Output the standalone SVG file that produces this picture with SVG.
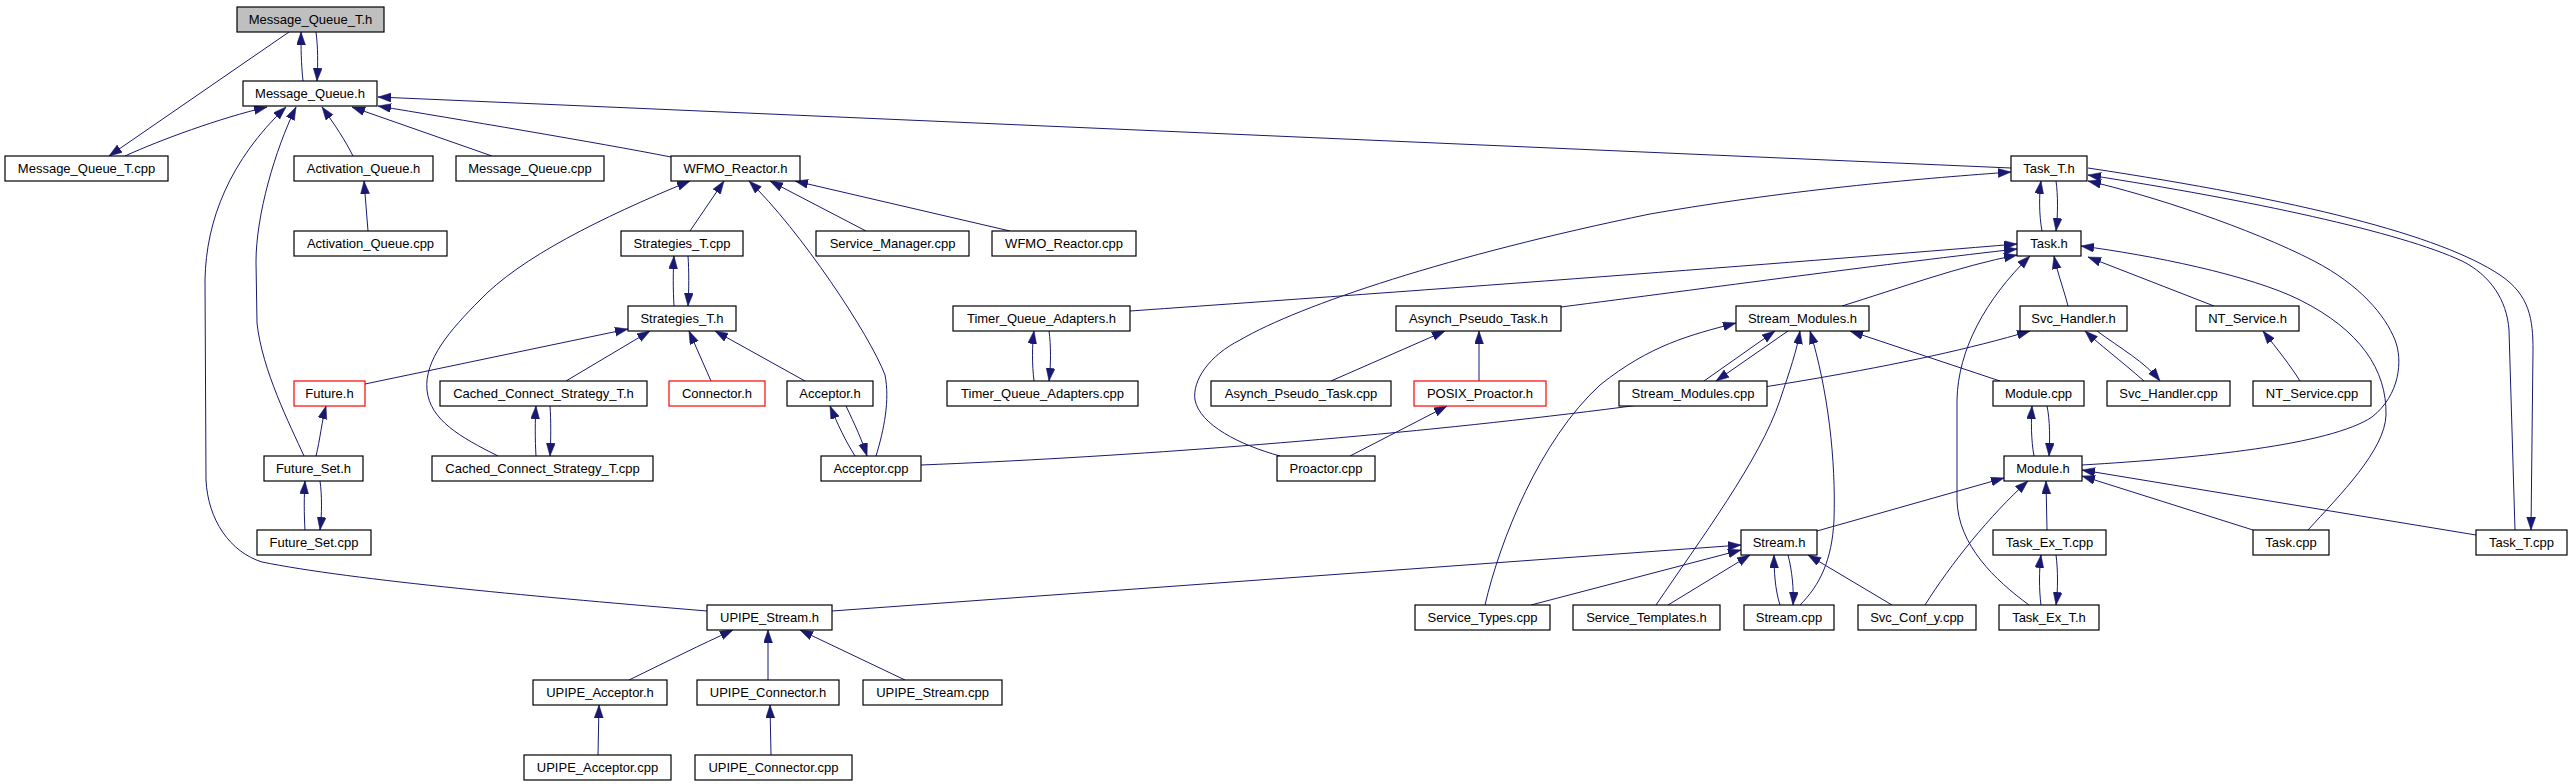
<svg xmlns="http://www.w3.org/2000/svg" width="2572" height="784" viewBox="0 0 2572 784">
<defs>
<marker id="a" markerUnits="userSpaceOnUse" markerWidth="14" markerHeight="10" refX="13" refY="4.5" orient="auto">
<path d="M0,0 L13,4.5 L0,9 Z" fill="#191970" stroke="#191970" stroke-width="0.5"/>
</marker>
<style>
.e path{fill:none;stroke:#191970;stroke-width:1;marker-end:url(#a)}
.n rect{fill:#fff;stroke:#000;stroke-width:1.2}
.n.g rect{fill:#bfbfbf}
.n.r rect{stroke:#ff0000}
.n text{font-family:"Liberation Sans",Arial,sans-serif;font-size:13px;text-anchor:middle;fill:#000}
</style>
</defs>
<rect width="2572" height="784" fill="#fff"/>
<g id="connectors" class="e">
<path d="M303,81 C301,62 301,48 301,32"/>
<path d="M316,32 C318,48 318,62 317,81"/>
<path d="M289,32 L109,156"/>
<path d="M125,156 C160,140 220,118 267,107"/>
<path d="M304,456 C290,425 262,370 257,323 L256,262 C256,215 275,150 296,107"/>
<path d="M353,156 C345,140 335,125 322,107"/>
<path d="M492,156 L352,107"/>
<path d="M671,157 C600,143 450,118 378,106"/>
<path d="M2011,168 L378,97"/>
<path d="M1280,456 C1240,445 1200,425 1195,400 C1192,380 1210,355 1240,340 C1300,305 1450,255 1650,214 C1800,188 1930,178 2011,172"/>
<path d="M690,231 L724,181"/>
<path d="M498,456 C460,437 430,420 427,390 C424,360 450,330 480,300 C520,258 600,218 690,181"/>
<path d="M876,456 C884,430 890,400 885,375 C870,335 800,230 749,181"/>
<path d="M866,231 L770,181"/>
<path d="M1010,231 L795,181"/>
<path d="M674,306 C673,290 673,270 674,256"/>
<path d="M688,256 C689,270 689,290 688,306"/>
<path d="M365,384 L628,329"/>
<path d="M566,381 L650,331"/>
<path d="M711,381 L689,331"/>
<path d="M805,381 L715,331"/>
<path d="M855,456 C845,440 838,425 830,406"/>
<path d="M846,406 C855,425 862,440 867,456"/>
<path d="M536,456 C535,440 535,420 536,406"/>
<path d="M550,406 C551,420 551,440 550,456"/>
<path d="M316,456 C320,440 322,420 326,406"/>
<path d="M305,530 C304,515 304,495 305,481"/>
<path d="M320,481 C322,495 322,515 320,530"/>
<path d="M368,231 L364,181"/>
<path d="M1034,381 C1032,365 1032,345 1034,331"/>
<path d="M1049,331 C1051,345 1051,365 1049,381"/>
<path d="M1130,311 C1500,285 1800,262 2017,244"/>
<path d="M1561,307 C1700,289 1900,262 2017,249"/>
<path d="M1842,306 C1900,288 1960,266 2017,255"/>
<path d="M2029,605 C1995,580 1958,545 1957,500 L1957,400 C1958,350 1985,300 2030,256"/>
<path d="M2068,306 C2064,290 2058,275 2054,256"/>
<path d="M2214,306 L2088,257"/>
<path d="M2308,530 C2340,495 2385,450 2386,415 C2387,370 2360,330 2300,300 C2250,275 2150,255 2081,246"/>
<path d="M2042,231 C2039,215 2039,195 2041,181"/>
<path d="M2056,181 C2058,195 2058,215 2056,231"/>
<path d="M2088,168 C2300,200 2440,235 2500,275 C2530,295 2533,320 2533,350 L2531,530"/>
<path d="M2515,530 L2509,330 C2507,300 2490,275 2462,261 C2400,232 2250,200 2088,175"/>
<path d="M2082,465 C2200,458 2330,445 2372,417 C2400,395 2403,360 2395,340 C2385,315 2360,285 2314,261 C2250,228 2150,195 2088,181"/>
<path d="M2144,381 C2120,360 2100,345 2085,331"/>
<path d="M2097,331 C2120,348 2145,362 2160,381"/>
<path d="M921,465 C1300,450 1800,400 2030,331"/>
<path d="M2300,381 C2290,365 2278,350 2263,331"/>
<path d="M2000,381 L1850,331"/>
<path d="M2034,456 C2031,440 2031,420 2032,406"/>
<path d="M2047,406 C2050,420 2050,440 2049,456"/>
<path d="M1817,531 L2004,478"/>
<path d="M1925,605 C1950,565 1990,515 2028,481"/>
<path d="M2047,530 L2046,481"/>
<path d="M2253,530 L2082,476"/>
<path d="M2476,535 L2082,470"/>
<path d="M2041,605 C2039,590 2039,570 2041,555"/>
<path d="M2056,555 C2058,570 2058,590 2056,605"/>
<path d="M1780,605 C1775,590 1774,570 1774,555"/>
<path d="M1788,555 C1792,570 1794,590 1793,605"/>
<path d="M1800,605 C1820,585 1832,560 1834,520 C1836,460 1828,390 1810,331"/>
<path d="M1656,605 C1700,540 1760,460 1780,400 C1790,370 1797,350 1800,331"/>
<path d="M1485,605 C1500,540 1540,440 1600,385 C1650,345 1690,335 1736,323"/>
<path d="M1704,381 L1775,331"/>
<path d="M1788,331 L1716,381"/>
<path d="M1331,381 L1445,331"/>
<path d="M1479,381 L1479,331"/>
<path d="M1350,456 L1447,406"/>
<path d="M1531,605 L1741,550"/>
<path d="M1668,605 L1750,555"/>
<path d="M1892,605 L1808,555"/>
<path d="M832,611 L1741,545"/>
<path d="M629,680 C670,660 700,645 733,630"/>
<path d="M768,680 L768,630"/>
<path d="M905,680 L800,630"/>
<path d="M598,755 L599,705"/>
<path d="M771,755 L770,705"/>
<path d="M707,611 C550,598 350,580 262,562 C230,552 208,520 206,480 L205,280 C206,220 230,160 286,107"/>
</g>
<g id="n1" class="n g"><rect x="237" y="7" width="147" height="25"/><text x="310.5" y="24">Message_Queue_T.h</text></g>
<g id="n2" class="n"><rect x="243" y="81" width="134" height="25"/><text x="310" y="98">Message_Queue.h</text></g>
<g id="n3" class="n"><rect x="5" y="156" width="163" height="25"/><text x="86.5" y="173">Message_Queue_T.cpp</text></g>
<g id="n4" class="n"><rect x="294" y="156" width="139" height="25"/><text x="363.5" y="173">Activation_Queue.h</text></g>
<g id="n5" class="n"><rect x="456" y="156" width="148" height="25"/><text x="530" y="173">Message_Queue.cpp</text></g>
<g id="n6" class="n"><rect x="671" y="156" width="129" height="25"/><text x="735.5" y="173">WFMO_Reactor.h</text></g>
<g id="n7" class="n"><rect x="2011" y="156" width="76" height="25"/><text x="2049" y="173">Task_T.h</text></g>
<g id="n8" class="n"><rect x="294" y="231" width="153" height="25"/><text x="370.5" y="248">Activation_Queue.cpp</text></g>
<g id="n9" class="n"><rect x="621" y="231" width="122" height="25"/><text x="682" y="248">Strategies_T.cpp</text></g>
<g id="n10" class="n"><rect x="816" y="231" width="153" height="25"/><text x="892.5" y="248">Service_Manager.cpp</text></g>
<g id="n11" class="n"><rect x="992" y="231" width="144" height="25"/><text x="1064" y="248">WFMO_Reactor.cpp</text></g>
<g id="n12" class="n"><rect x="2017" y="231" width="64" height="25"/><text x="2049" y="248">Task.h</text></g>
<g id="n13" class="n"><rect x="628" y="306" width="108" height="25"/><text x="682" y="323">Strategies_T.h</text></g>
<g id="n14" class="n"><rect x="953" y="306" width="177" height="25"/><text x="1041.5" y="323">Timer_Queue_Adapters.h</text></g>
<g id="n15" class="n"><rect x="1396" y="306" width="165" height="25"/><text x="1478.5" y="323">Asynch_Pseudo_Task.h</text></g>
<g id="n16" class="n"><rect x="1736" y="306" width="133" height="25"/><text x="1802.5" y="323">Stream_Modules.h</text></g>
<g id="n17" class="n"><rect x="2020" y="306" width="107" height="25"/><text x="2073.5" y="323">Svc_Handler.h</text></g>
<g id="n18" class="n"><rect x="2196" y="306" width="103" height="25"/><text x="2247.5" y="323">NT_Service.h</text></g>
<g id="n19" class="n r"><rect x="294" y="381" width="71" height="25"/><text x="329.5" y="398">Future.h</text></g>
<g id="n20" class="n"><rect x="440" y="381" width="207" height="25"/><text x="543.5" y="398">Cached_Connect_Strategy_T.h</text></g>
<g id="n21" class="n r"><rect x="669" y="381" width="96" height="25"/><text x="717" y="398">Connector.h</text></g>
<g id="n22" class="n"><rect x="787" y="381" width="86" height="25"/><text x="830" y="398">Acceptor.h</text></g>
<g id="n23" class="n"><rect x="947" y="381" width="191" height="25"/><text x="1042.5" y="398">Timer_Queue_Adapters.cpp</text></g>
<g id="n24" class="n"><rect x="1211" y="381" width="180" height="25"/><text x="1301" y="398">Asynch_Pseudo_Task.cpp</text></g>
<g id="n25" class="n r"><rect x="1414" y="381" width="132" height="25"/><text x="1480" y="398">POSIX_Proactor.h</text></g>
<g id="n26" class="n"><rect x="1619" y="381" width="148" height="25"/><text x="1693" y="398">Stream_Modules.cpp</text></g>
<g id="n27" class="n"><rect x="1993" y="381" width="91" height="25"/><text x="2038.5" y="398">Module.cpp</text></g>
<g id="n28" class="n"><rect x="2107" y="381" width="123" height="25"/><text x="2168.5" y="398">Svc_Handler.cpp</text></g>
<g id="n29" class="n"><rect x="2253" y="381" width="118" height="25"/><text x="2312" y="398">NT_Service.cpp</text></g>
<g id="n30" class="n"><rect x="264" y="456" width="99" height="25"/><text x="313.5" y="473">Future_Set.h</text></g>
<g id="n31" class="n"><rect x="432" y="456" width="221" height="25"/><text x="542.5" y="473">Cached_Connect_Strategy_T.cpp</text></g>
<g id="n32" class="n"><rect x="821" y="456" width="100" height="25"/><text x="871" y="473">Acceptor.cpp</text></g>
<g id="n33" class="n"><rect x="1277" y="456" width="98" height="25"/><text x="1326" y="473">Proactor.cpp</text></g>
<g id="n34" class="n"><rect x="2004" y="456" width="78" height="25"/><text x="2043" y="473">Module.h</text></g>
<g id="n35" class="n"><rect x="257" y="530" width="114" height="25"/><text x="314" y="547">Future_Set.cpp</text></g>
<g id="n36" class="n"><rect x="1741" y="530" width="76" height="25"/><text x="1779" y="547">Stream.h</text></g>
<g id="n37" class="n"><rect x="1993" y="530" width="113" height="25"/><text x="2049.5" y="547">Task_Ex_T.cpp</text></g>
<g id="n38" class="n"><rect x="2253" y="530" width="76" height="25"/><text x="2291" y="547">Task.cpp</text></g>
<g id="n39" class="n"><rect x="2476" y="530" width="91" height="25"/><text x="2521.5" y="547">Task_T.cpp</text></g>
<g id="n40" class="n"><rect x="707" y="605" width="125" height="25"/><text x="769.5" y="622">UPIPE_Stream.h</text></g>
<g id="n41" class="n"><rect x="1415" y="605" width="135" height="25"/><text x="1482.5" y="622">Service_Types.cpp</text></g>
<g id="n42" class="n"><rect x="1573" y="605" width="147" height="25"/><text x="1646.5" y="622">Service_Templates.h</text></g>
<g id="n43" class="n"><rect x="1744" y="605" width="90" height="25"/><text x="1789" y="622">Stream.cpp</text></g>
<g id="n44" class="n"><rect x="1858" y="605" width="118" height="25"/><text x="1917" y="622">Svc_Conf_y.cpp</text></g>
<g id="n45" class="n"><rect x="1999" y="605" width="100" height="25"/><text x="2049" y="622">Task_Ex_T.h</text></g>
<g id="n46" class="n"><rect x="533" y="680" width="134" height="25"/><text x="600" y="697">UPIPE_Acceptor.h</text></g>
<g id="n47" class="n"><rect x="697" y="680" width="142" height="25"/><text x="768" y="697">UPIPE_Connector.h</text></g>
<g id="n48" class="n"><rect x="863" y="680" width="139" height="25"/><text x="932.5" y="697">UPIPE_Stream.cpp</text></g>
<g id="n49" class="n"><rect x="524" y="755" width="147" height="25"/><text x="597.5" y="772">UPIPE_Acceptor.cpp</text></g>
<g id="n50" class="n"><rect x="695" y="755" width="157" height="25"/><text x="773.5" y="772">UPIPE_Connector.cpp</text></g>
</svg>
